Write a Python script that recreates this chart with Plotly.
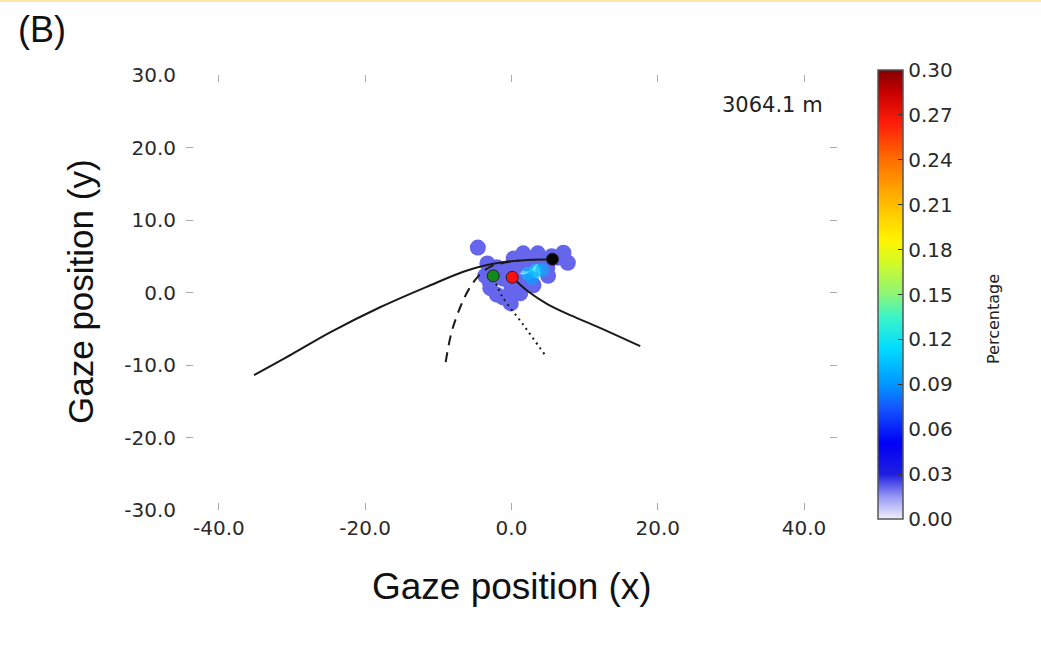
import plotly.graph_objects as go

# ---- data ----
x_ticks = [-40, -20, 0, 20, 40]
x_tick_labels = ["-40.0", "-20.0", "0.0", "20.0", "40.0"]
y_ticks = [-30, -20, -10, 0, 10, 20, 30]
y_tick_labels = ["-30.0", "-20.0", "-10.0", "0.0", "10.0", "20.0", "30.0"]
cb_ticks = [0.0, 0.03, 0.06, 0.09, 0.12, 0.15, 0.18, 0.21, 0.24, 0.27, 0.30]
cb_tick_labels = ["0.00", "0.03", "0.06", "0.09", "0.12", "0.15", "0.18", "0.21", "0.24", "0.27", "0.30"]

# fixation density blobs (x, y, percentage)
blob_x = [-4.6, 7.1, 7.7, 6.3, 5.5, 1.6, 3.6, 0.3, 2.0, -3.3, -3.6, -2.9, -2.0, -1.1, 0.5,
          -1.1, -0.1, 1.2, 0.0, -2.0, 4.9, 3.0, 2.2, -3.0, 4.5, 1.0, -0.5, 2.6, 5.0]
blob_y = [6.2, 5.5, 4.1, 4.8, 5.0, 5.4, 5.4, 4.7, 4.0, 4.0, 2.3, 0.6, 3.5, 1.9, 3.5,
          -0.7, -1.5, -0.1, 0.5, -0.3, 3.4, 1.0, 1.5, 1.5, 4.3, 1.5, 3.0, 4.6, 2.3]
blob_v = [0.021] * len(blob_x)
hot_x = [2.2, 3.3, 4.2, 2.8]
hot_y = [2.6, 3.0, 3.1, 2.0]
hot_v = [0.105, 0.11, 0.1, 0.095]

# trajectories
path_a_x = [-35.2, -30.0, -24.8, -17.9, -11.1, -6.5, -3.8, -1.0, 2.2, 5.6]
path_a_y = [-11.4, -8.5, -5.5, -2.0, 1.0, 2.9, 3.7, 4.2, 4.5, 4.6]
path_b_x = [0.1, 2.2, 4.9, 8.2, 11.7, 17.6]
path_b_y = [2.1, 0.2, -1.6, -3.2, -4.7, -7.4]
path_c_x = [-9.0, -8.2, -7.0, -5.8, -4.5, -3.0, -1.0, 1.0]
path_c_y = [-9.6, -5.5, -2.0, 0.5, 2.3, 3.5, 4.1, 4.4]
path_d_x = [4.5, 1.5, -1.3, -2.3]
path_d_y = [-8.5, -4.3, -0.5, 1.8]

pt_x = [-2.5, 0.1, 5.6]
pt_y = [2.3, 2.1, 4.6]
pt_colors = ["#118a1a", "#ff1010", "#050505"]

distance_label = "3064.1 m"

colorscale = [
    [0.00, "rgb(240,240,252)"],
    [0.05, "rgb(150,150,245)"],
    [0.10, "rgb(30,30,225)"],
    [0.17, "rgb(0,0,245)"],
    [0.25, "rgb(20,90,255)"],
    [0.30, "rgb(0,150,255)"],
    [0.38, "rgb(0,220,255)"],
    [0.45, "rgb(60,245,200)"],
    [0.50, "rgb(140,245,120)"],
    [0.57, "rgb(210,250,40)"],
    [0.62, "rgb(255,245,0)"],
    [0.70, "rgb(255,190,0)"],
    [0.80, "rgb(255,110,0)"],
    [0.88, "rgb(255,30,10)"],
    [0.95, "rgb(200,0,0)"],
    [1.00, "rgb(130,0,0)"],
]

TICKFONT = dict(family="DejaVu Sans", size=20, color="#2a2a2a")
L, R, T, B = 186, 204, 75, 148
PW, PH = 1041 - L - R, 658 - T - B

fig = go.Figure()

fig.add_trace(go.Scatter(
    x=blob_x, y=blob_y, mode="markers", hoverinfo="skip",
    marker=dict(size=16, color=blob_v, colorscale=colorscale, cmin=0, cmax=0.30,
                line=dict(width=0), opacity=1,
                colorbar=dict(
                    x=(878 - L) / PW, xanchor="left", xref="paper", xpad=0, ypad=0,
                    y=(510 - 294.5) / PH, yanchor="middle",
                    lenmode="pixels", len=449, thickness=25,
                    outlinewidth=1.5, outlinecolor="#555",
                    tickvals=cb_ticks, ticktext=cb_tick_labels,
                    ticks="inside", ticklen=5, tickcolor="#333",
                    tickfont=TICKFONT,
                )),
    showlegend=False,
))
fig.add_trace(go.Scatter(
    x=hot_x, y=hot_y, mode="markers", hoverinfo="skip",
    marker=dict(size=14, color=hot_v, colorscale=colorscale, cmin=0, cmax=0.30,
                line=dict(width=0), opacity=0.6, showscale=False),
    showlegend=False,
))

line_col = "#1a1a1a"
fig.add_trace(go.Scatter(x=path_a_x, y=path_a_y, mode="lines", line=dict(color=line_col, width=2, shape="spline"), showlegend=False))
fig.add_trace(go.Scatter(x=path_b_x, y=path_b_y, mode="lines", line=dict(color=line_col, width=2, shape="spline"), showlegend=False))
fig.add_trace(go.Scatter(x=path_c_x, y=path_c_y, mode="lines", line=dict(color=line_col, width=2, dash="10px,7px", shape="spline"), showlegend=False))
fig.add_trace(go.Scatter(x=path_d_x, y=path_d_y, mode="lines", line=dict(color=line_col, width=2, dash="2px,4px", shape="spline"), showlegend=False))
fig.add_trace(go.Scatter(x=pt_x, y=pt_y, mode="markers",
                         marker=dict(size=12, color=pt_colors, line=dict(color="#222", width=1)),
                         showlegend=False))

axis_common = dict(showgrid=False, zeroline=False, showline=False, ticks="inside",
                   ticklen=7, tickwidth=1, tickcolor="#aaa", mirror="ticks",
                   tickfont=TICKFONT)
fig.update_xaxes(range=[-44.5, 44.5], tickvals=x_ticks, ticktext=x_tick_labels,
                 ticklabelstandoff=4, **axis_common)
fig.update_yaxes(range=[-30, 30], tickvals=y_ticks, ticktext=y_tick_labels,
                 ticklabelstandoff=9, **axis_common)

fig.add_annotation(text="Gaze position (x)", xref="paper", yref="paper",
                   x=(512 - L) / PW, y=(510 - 586) / PH, xanchor="center", yanchor="middle",
                   showarrow=False, font=dict(family="Liberation Sans", size=37, color="#111"))
fig.add_annotation(text="Gaze position (y)", xref="paper", yref="paper",
                   x=(80 - L) / PW, y=(510 - 292) / PH, xanchor="center", yanchor="middle",
                   textangle=-90, showarrow=False,
                   font=dict(family="Liberation Sans", size=35, color="#111"))
fig.add_annotation(text="(B)", xref="paper", yref="paper",
                   x=(16 - L) / PW, y=(510 - 29) / PH, xanchor="left", yanchor="middle",
                   showarrow=False, font=dict(family="Liberation Sans", size=36, color="#111"))
fig.add_annotation(text=distance_label, xref="paper", yref="paper",
                   x=(720 - L) / PW, y=(510 - 105) / PH, xanchor="left", yanchor="middle",
                   showarrow=False, font=dict(family="DejaVu Sans", size=21, color="#222"))
fig.add_annotation(text="Percentage", xref="paper", yref="paper",
                   x=(993 - L) / PW, y=(510 - 319) / PH, xanchor="center", yanchor="middle",
                   textangle=-90, showarrow=False,
                   font=dict(family="DejaVu Sans", size=16, color="#222"))

# thin yellow band at the very top of the image
fig.add_shape(type="rect", xref="paper", yref="paper", layer="above",
              x0=-L / PW, x1=(1041 - L) / PW, y0=(510 - 2) / PH, y1=510 / PH,
              fillcolor="#fde7a6", line=dict(width=0))

fig.update_layout(width=1041, height=658, margin=dict(l=L, r=R, t=T, b=B),
                  paper_bgcolor="white", plot_bgcolor="white")

fig.write_html("out.html")
